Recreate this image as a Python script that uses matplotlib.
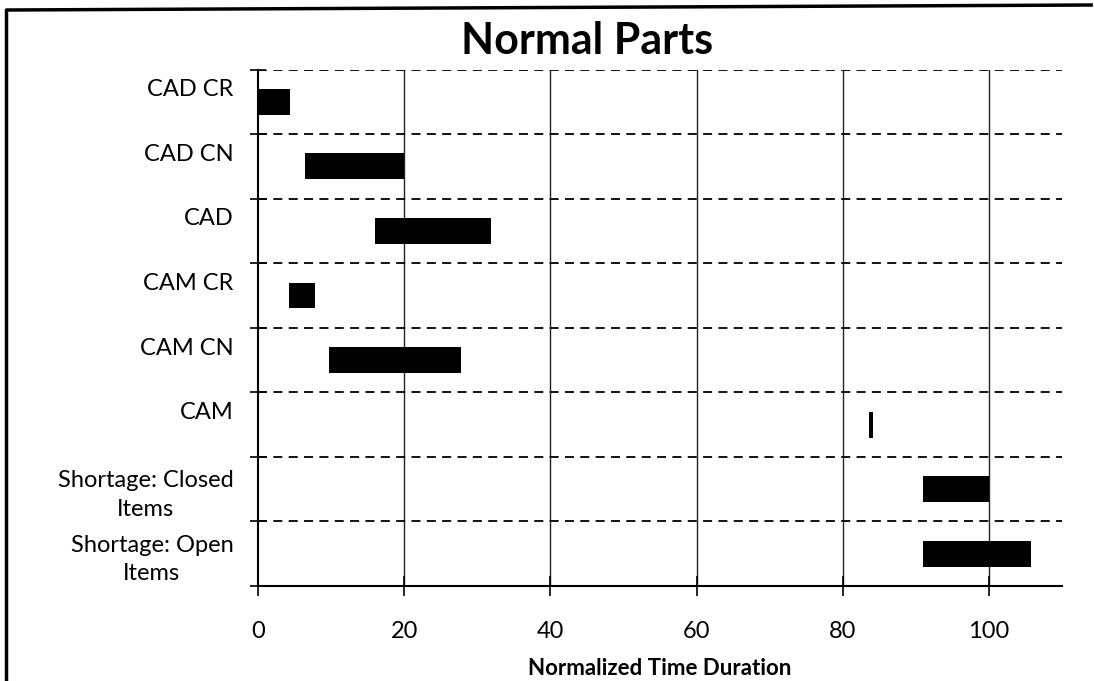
"""Normal Parts: Gantt-style bar chart of normalized time durations."""
import matplotlib
matplotlib.use("Agg")
import matplotlib.pyplot as plt
import matplotlib.transforms as mtransforms
from matplotlib.lines import Line2D
import numpy as np

plt.rcParams["font.family"] = ["Lato", "DejaVu Sans"]

tasks = ["CAD CR", "CAD CN", "CAD", "CAM CR", "CAM CN", "CAM",
         "Shortage: Closed\nItems", "Shortage: Open\nItems"]
start = [0.0, 6.4, 16.0, 4.2, 9.7, 83.6, 91.0, 91.0]
end = [4.3, 19.9, 31.8, 7.8, 27.8, 84.2, 100.0, 105.8]
xticks = [0, 20, 40, 60, 80, 100]

W, H = 1094, 681
fig = plt.figure(figsize=(W / 100, H / 100), dpi=100)
ax = fig.add_axes([258.3 / W, 1 - 586 / H, (1061.7 - 258.3) / W, (586 - 69.5) / H])

n = len(tasks)
rows = np.arange(n)
dur = np.array(end) - np.array(start)
ax.barh(rows + 0.5, dur, left=start, height=0.4, color="black", zorder=3)

ax.set_xlim(0, 110)
ax.set_ylim(n, 0)

# vertical solid grid at major x ticks
ax.set_xticks(xticks)
for x in xticks[1:]:
    ax.axvline(x, color="#222222", lw=1.0, zorder=1)
# dashed horizontal lines at category boundaries
for y in range(n):
    ax.axhline(y, color="black", lw=1.3, ls=(0, (5, 3.5)), zorder=1)

# y labels at band centres, ticks at boundaries
ax.set_yticks(np.arange(n + 1))
ax.set_yticklabels([])
ax.set_yticks(rows + 0.5, minor=True)
ax.set_yticklabels(tasks, minor=True, fontsize=17, ha="right",
                   multialignment="center", linespacing=1.45)
ax.tick_params(axis="y", which="minor", length=0, pad=18)
ax.tick_params(axis="y", which="major", direction="inout", length=12, width=1.2)
ax.tick_params(axis="x", direction="inout", length=14, width=1.2, labelsize=17, pad=18)
for lab, t in zip(ax.get_yticklabels(minor=True), tasks):
    if "\n" not in t:
        off = mtransforms.ScaledTranslation(0, 14 / 100, fig.dpi_scale_trans)
        lab.set_transform(lab.get_transform() + off)

for side in ["top", "right"]:
    ax.spines[side].set_visible(False)
ax.spines["left"].set_linewidth(1.5)
ax.spines["bottom"].set_linewidth(1.5)

ax.set_xlabel("Normalized Time Duration", fontsize=16, fontweight="bold", labelpad=12)
fig.text(587 / W, 1 - 41 / H, "Normal Parts", fontsize=31, fontweight="bold",
         ha="center", va="center")

# chart frame (left and top edges visible)
fig.add_artist(Line2D([6 / W, 6 / W], [0, 1 - 10 / H], color="black", lw=2.5,
                      transform=fig.transFigure))
fig.add_artist(Line2D([6 / W, 0.999], [1 - 10 / H, 1 - 5 / H], color="black", lw=2.5,
                      solid_capstyle="butt", transform=fig.transFigure))

fig.savefig("out.png", dpi=100)
